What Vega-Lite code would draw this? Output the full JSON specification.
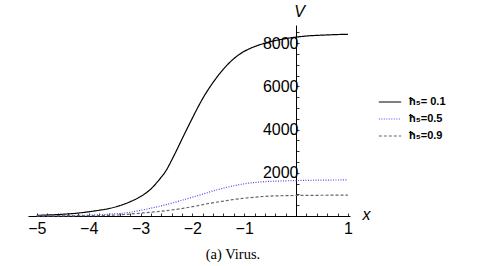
{
  "$schema": "https://vega.github.io/schema/vega-lite/v6.json",
  "width": 322,
  "height": 191,
  "autosize": "none",
  "padding": {"left": 28, "top": 25, "right": 140, "bottom": 50},
  "background": "white",
  "config": {"view": {"stroke": null}},
  "title": {"text": "(a)  Virus.", "orient": "bottom", "font": "Liberation Serif", "fontSize": 14.5, "fontWeight": "normal", "anchor": "middle", "dx": 44, "offset": 12, "color": "black"},
  "data": {"values": [
    {"x": -5, "V": 30, "s": "ħ₅= 0.1"},
    {"x": -4.75, "V": 50, "s": "ħ₅= 0.1"},
    {"x": -4.5, "V": 80, "s": "ħ₅= 0.1"},
    {"x": -4.25, "V": 125, "s": "ħ₅= 0.1"},
    {"x": -4, "V": 195, "s": "ħ₅= 0.1"},
    {"x": -3.8, "V": 265, "s": "ħ₅= 0.1"},
    {"x": -3.6, "V": 350, "s": "ħ₅= 0.1"},
    {"x": -3.4, "V": 480, "s": "ħ₅= 0.1"},
    {"x": -3.2, "V": 660, "s": "ħ₅= 0.1"},
    {"x": -3.0, "V": 900, "s": "ħ₅= 0.1"},
    {"x": -2.8, "V": 1250, "s": "ħ₅= 0.1"},
    {"x": -2.65, "V": 1650, "s": "ħ₅= 0.1"},
    {"x": -2.5, "V": 2130, "s": "ħ₅= 0.1"},
    {"x": -2.4, "V": 2580, "s": "ħ₅= 0.1"},
    {"x": -2.3, "V": 3060, "s": "ħ₅= 0.1"},
    {"x": -2.2, "V": 3560, "s": "ħ₅= 0.1"},
    {"x": -2.1, "V": 4050, "s": "ħ₅= 0.1"},
    {"x": -2.0, "V": 4530, "s": "ħ₅= 0.1"},
    {"x": -1.9, "V": 5000, "s": "ħ₅= 0.1"},
    {"x": -1.8, "V": 5440, "s": "ħ₅= 0.1"},
    {"x": -1.7, "V": 5830, "s": "ħ₅= 0.1"},
    {"x": -1.55, "V": 6350, "s": "ħ₅= 0.1"},
    {"x": -1.4, "V": 6800, "s": "ħ₅= 0.1"},
    {"x": -1.3, "V": 7060, "s": "ħ₅= 0.1"},
    {"x": -1.15, "V": 7380, "s": "ħ₅= 0.1"},
    {"x": -1.0, "V": 7620, "s": "ħ₅= 0.1"},
    {"x": -0.8, "V": 7840, "s": "ħ₅= 0.1"},
    {"x": -0.6, "V": 8000, "s": "ħ₅= 0.1"},
    {"x": -0.4, "V": 8120, "s": "ħ₅= 0.1"},
    {"x": -0.2, "V": 8210, "s": "ħ₅= 0.1"},
    {"x": 0, "V": 8280, "s": "ħ₅= 0.1"},
    {"x": 0.25, "V": 8340, "s": "ħ₅= 0.1"},
    {"x": 0.5, "V": 8370, "s": "ħ₅= 0.1"},
    {"x": 0.75, "V": 8395, "s": "ħ₅= 0.1"},
    {"x": 1, "V": 8410, "s": "ħ₅= 0.1"},
    {"x": -5, "V": 5, "s": "ħ₅=0.5"},
    {"x": -4.5, "V": 15, "s": "ħ₅=0.5"},
    {"x": -4, "V": 40, "s": "ħ₅=0.5"},
    {"x": -3.6, "V": 80, "s": "ħ₅=0.5"},
    {"x": -3.3, "V": 140, "s": "ħ₅=0.5"},
    {"x": -3.0, "V": 260, "s": "ħ₅=0.5"},
    {"x": -2.8, "V": 360, "s": "ħ₅=0.5"},
    {"x": -2.6, "V": 470, "s": "ħ₅=0.5"},
    {"x": -2.3, "V": 660, "s": "ħ₅=0.5"},
    {"x": -2.0, "V": 870, "s": "ħ₅=0.5"},
    {"x": -1.8, "V": 1010, "s": "ħ₅=0.5"},
    {"x": -1.6, "V": 1160, "s": "ħ₅=0.5"},
    {"x": -1.4, "V": 1290, "s": "ħ₅=0.5"},
    {"x": -1.2, "V": 1400, "s": "ħ₅=0.5"},
    {"x": -1.0, "V": 1490, "s": "ħ₅=0.5"},
    {"x": -0.8, "V": 1550, "s": "ħ₅=0.5"},
    {"x": -0.6, "V": 1590, "s": "ħ₅=0.5"},
    {"x": -0.3, "V": 1620, "s": "ħ₅=0.5"},
    {"x": 0, "V": 1640, "s": "ħ₅=0.5"},
    {"x": 0.5, "V": 1660, "s": "ħ₅=0.5"},
    {"x": 1, "V": 1670, "s": "ħ₅=0.5"},
    {"x": -5, "V": 3, "s": "ħ₅=0.9"},
    {"x": -4.5, "V": 8, "s": "ħ₅=0.9"},
    {"x": -4, "V": 15, "s": "ħ₅=0.9"},
    {"x": -3.6, "V": 30, "s": "ħ₅=0.9"},
    {"x": -3.3, "V": 70, "s": "ħ₅=0.9"},
    {"x": -3.0, "V": 130, "s": "ħ₅=0.9"},
    {"x": -2.6, "V": 220, "s": "ħ₅=0.9"},
    {"x": -2.3, "V": 310, "s": "ħ₅=0.9"},
    {"x": -2.0, "V": 430, "s": "ħ₅=0.9"},
    {"x": -1.66, "V": 590, "s": "ħ₅=0.9"},
    {"x": -1.4, "V": 690, "s": "ħ₅=0.9"},
    {"x": -1.15, "V": 780, "s": "ħ₅=0.9"},
    {"x": -0.8, "V": 870, "s": "ħ₅=0.9"},
    {"x": -0.5, "V": 920, "s": "ħ₅=0.9"},
    {"x": 0, "V": 950, "s": "ħ₅=0.9"},
    {"x": 0.5, "V": 960, "s": "ħ₅=0.9"},
    {"x": 1, "V": 965, "s": "ħ₅=0.9"}
  ]},
  "mark": {"type": "line", "interpolate": "monotone", "strokeWidth": 1.2, "clip": false},
  "encoding": {
    "x": {
      "field": "x", "type": "quantitative",
      "scale": {"domain": [-5.17, 1.04], "nice": false, "zero": false},
      "axis": {
        "orient": "bottom",
        "values": [-5, -4.8, -4.6, -4.4, -4.2, -4, -3.8, -3.6, -3.4, -3.2, -3, -2.8, -2.6, -2.4, -2.2, -2, -1.8, -1.6, -1.4, -1.2, -1, -0.8, -0.6, -0.4, -0.2, 0, 0.2, 0.4, 0.6, 0.8, 1],
        "labelExpr": "abs(datum.value - round(datum.value)) < 0.001 && datum.value != 0 ? replace(format(datum.value, 'd'), '-', '−') : ''",
        "grid": false,
        "domainColor": "black",
        "domainWidth": 1,
        "tickColor": "black",
        "tickWidth": 0.8,
        "tickSize": -3,
        "labelFont": "Liberation Sans",
        "labelFontSize": 16,
        "labelColor": "black",
        "labelPadding": 7,
        "labelFlush": false,
        "labelOverlap": false,
        "title": "x",
        "titleFont": "Liberation Sans",
        "titleFontSize": 16,
        "titleFontStyle": "italic",
        "titleFontWeight": "normal",
        "titleColor": "black",
        "titleX": 338,
        "titleY": -2,
        "titleAlign": "center",
        "titleBaseline": "middle"
      }
    },
    "y": {
      "field": "V", "type": "quantitative",
      "scale": {"domain": [0, 8840], "nice": false, "zero": false},
      "axis": {
        "orient": "left",
        "offset": -268,
        "values": [500, 1000, 1500, 2000, 2500, 3000, 3500, 4000, 4500, 5000, 5500, 6000, 6500, 7000, 7500, 8000, 8500],
        "labelExpr": "datum.value % 2000 === 0 ? format(datum.value, 'd') : ''",
        "grid": false,
        "domainColor": "black",
        "domainWidth": 1,
        "tickColor": "black",
        "tickWidth": 0.8,
        "tickSize": -3,
        "labelFont": "Liberation Sans",
        "labelFontSize": 16,
        "labelColor": "black",
        "labelPadding": 1,
        "labelOverlap": false,
        "title": "V",
        "titleFont": "Liberation Sans",
        "titleFontSize": 16,
        "titleFontStyle": "italic",
        "titleFontWeight": "normal",
        "titleColor": "black",
        "titleAngle": 0,
        "titleX": 3,
        "titleY": -14,
        "titleAlign": "center",
        "titleBaseline": "middle"
      }
    },
    "color": {
      "field": "s", "type": "nominal", "title": null,
      "scale": {"domain": ["ħ₅= 0.1", "ħ₅=0.5", "ħ₅=0.9"], "range": ["#000000", "#4a4af0", "#666666"]},
      "legend": {
        "orient": "none",
        "legendX": 350,
        "legendY": 65,
        "padding": 0,
        "symbolType": "stroke",
        "symbolSize": 500,
        "symbolStrokeWidth": 1.2,
        "rowPadding": 0,
        "labelFont": "Liberation Sans",
        "labelFontSize": 11,
        "labelFontWeight": "bold",
        "labelColor": "black",
        "labelOffset": 7
      }
    },
    "strokeDash": {
      "field": "s", "type": "nominal", "title": null,
      "scale": {"domain": ["ħ₅= 0.1", "ħ₅=0.5", "ħ₅=0.9"], "range": [[1, 0], [1, 1.5], [3, 2]]}
    }
  }
}
